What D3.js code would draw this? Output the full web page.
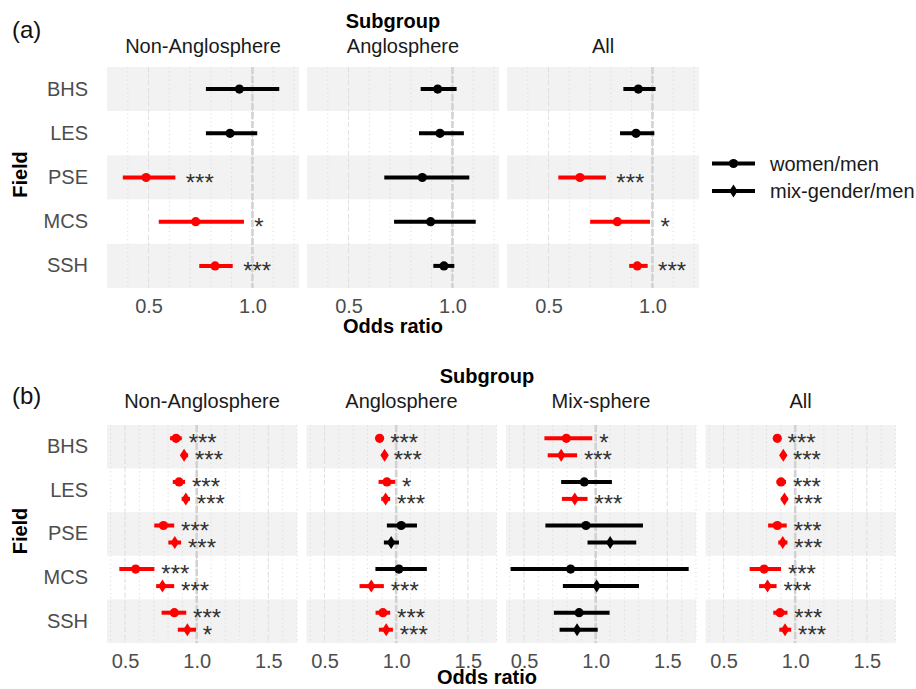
<!DOCTYPE html>
<html>
<head>
<meta charset="utf-8">
<script src="https://cdn.jsdelivr.net/npm/d3@7"></script>
<style>
  body { margin: 0; background: #fff; }
  svg { display: block; font-family: "Liberation Sans", Arial, Helvetica, sans-serif; }
</style>
</head>
<body>
<svg id="chart" width="916" height="689"></svg>
<script>
// ---- data -------------------------------------------------------------
const fields = ["BHS", "LES", "PSE", "MCS", "SSH"];
const seriesNames = ["women/men", "mix-gender/men"];

// Panel (a): women/men only
const aSubgroups = ["Non-Anglosphere", "Anglosphere", "All"];
const aWomenOR = [
  [0.937, 0.892, 0.488, 0.727, 0.820],
  [0.929, 0.940, 0.855, 0.895, 0.959],
  [0.932, 0.921, 0.651, 0.831, 0.927]
];
const aWomenLo = [
  [0.776, 0.776, 0.376, 0.549, 0.744],
  [0.847, 0.839, 0.672, 0.719, 0.908],
  [0.860, 0.844, 0.547, 0.700, 0.888]
];
const aWomenHi = [
  [1.129, 1.023, 0.629, 0.959, 0.905],
  [1.020, 1.055, 1.081, 1.112, 1.009],
  [1.015, 1.009, 0.776, 0.988, 0.977]
];
const aWomenSig = [
  ["", "", "***", "*", "***"],
  ["", "", "", "", ""],
  ["", "", "***", "*", "***"]
];
const aTicks = [0.5, 1.0];

// Panel (b): women/men and mix-gender/men
const bSubgroups = ["Non-Anglosphere", "Anglosphere", "Mix-sphere", "All"];
const bWomenOR = [
  [0.856, 0.877, 0.768, 0.574, 0.844],
  [0.884, 0.935, 1.035, 1.019, 0.907],
  [0.795, 0.920, 0.932, 0.825, 0.884],
  [0.875, 0.901, 0.875, 0.783, 0.894]
];
const bWomenLo = [
  [0.814, 0.833, 0.704, 0.460, 0.755],
  [0.860, 0.877, 0.935, 0.855, 0.856],
  [0.642, 0.759, 0.649, 0.406, 0.708],
  [0.851, 0.870, 0.811, 0.682, 0.847]
];
const bWomenHi = [
  [0.896, 0.919, 0.843, 0.705, 0.927],
  [0.910, 0.993, 1.145, 1.214, 0.958],
  [0.976, 1.113, 1.330, 1.649, 1.097],
  [0.899, 0.936, 0.941, 0.901, 0.946]
];
const bWomenSig = [
  ["***", "***", "***", "***", "***"],
  ["***", "*", "", "", "***"],
  ["*", "", "", "", ""],
  ["***", "***", "***", "***", "***"]
];
const bMixOR = [
  [0.912, 0.924, 0.847, 0.761, 0.935],
  [0.919, 0.926, 0.965, 0.826, 0.930],
  [0.759, 0.854, 1.101, 1.007, 0.870],
  [0.917, 0.925, 0.913, 0.807, 0.929]
];
const bMixLo = [
  [0.890, 0.895, 0.802, 0.717, 0.868],
  [0.900, 0.896, 0.914, 0.744, 0.879],
  [0.665, 0.764, 0.943, 0.771, 0.748],
  [0.899, 0.903, 0.882, 0.748, 0.889]
];
const bMixHi = [
  [0.940, 0.953, 0.891, 0.843, 0.995],
  [0.935, 0.958, 1.019, 0.914, 0.977],
  [0.870, 0.943, 1.283, 1.302, 1.014],
  [0.936, 0.946, 0.946, 0.870, 0.972]
];
const bMixSig = [
  ["***", "***", "***", "***", "*"],
  ["***", "***", "", "***", "***"],
  ["***", "***", "", "", ""],
  ["***", "***", "***", "***", "***"]
];
const bTicks = [0.5, 1.0, 1.5];

// ---- drawing ----------------------------------------------------------
const svg = d3.select("#chart");
const FS = 20;
const sigColor = s => (s ? "#ff0000" : "#000000");
const diamondPath = "M0,-6.5L4.2,0L0,6.5L-4.2,0Z";

function drawShape(g, shape, x, y, color) {
  if (shape === "circle") {
    g.append("circle").attr("cx", x).attr("cy", y).attr("r", 4.6).attr("fill", color);
  } else {
    g.append("path").attr("d", diamondPath)
      .attr("transform", `translate(${x},${y})`).attr("fill", color);
  }
}

function drawPanel(cfg) {
  const g = svg.append("g");
  const y = d3.scaleBand().domain(fields).range([cfg.top, cfg.bottom]).paddingInner(0).paddingOuter(0);

  cfg.subgroups.forEach((sub, fi) => {
    const left = cfg.left + fi * cfg.step;
    const x = d3.scaleLinear().domain(cfg.domain).range([left, left + cfg.width]);
    const fg = g.append("g");

    // striped row backgrounds
    fields.forEach((f, i) => {
      fg.append("rect")
        .attr("x", left).attr("y", y(f))
        .attr("width", cfg.width).attr("height", y.bandwidth())
        .attr("fill", i % 2 === 0 ? "#f2f2f2" : "#ffffff");
    });

    // fine dotted grid every 0.1
    fg.selectAll("line.minor").data(cfg.minor).join("line")
      .attr("x1", d => x(d)).attr("x2", d => x(d))
      .attr("y1", cfg.top).attr("y2", cfg.bottom)
      .attr("stroke", "#d8d8d8").attr("stroke-width", 0.9)
      .attr("stroke-dasharray", "1.2,3");
    // labelled grid lines
    fg.selectAll("line.major").data(cfg.ticks).join("line")
      .attr("x1", d => x(d)).attr("x2", d => x(d))
      .attr("y1", cfg.top).attr("y2", cfg.bottom)
      .attr("stroke", "#e0e0e0").attr("stroke-width", 1)
      .attr("stroke-dasharray", "4,3");
    // reference line at OR = 1
    fg.append("line")
      .attr("x1", x(1)).attr("x2", x(1))
      .attr("y1", cfg.top).attr("y2", cfg.bottom)
      .attr("stroke", "#d2d2d2").attr("stroke-width", 2.6)
      .attr("stroke-dasharray", "7,2");

    // estimates with confidence intervals
    cfg.series.forEach(s => {
      fields.forEach((f, i) => {
        const yc = y(f) + y.bandwidth() / 2 + s.offset;
        const sig = s.sig[fi][i];
        const col = sigColor(sig);
        fg.append("line")
          .attr("x1", x(s.lo[fi][i])).attr("x2", x(s.hi[fi][i]))
          .attr("y1", yc).attr("y2", yc)
          .attr("stroke", col).attr("stroke-width", 4);
        drawShape(fg, s.shape, x(s.or[fi][i]), yc, col);
        if (sig) {
          fg.append("text")
            .attr("x", x(s.hi[fi][i] + 0.055) - 1)
            .attr("y", yc + 13)
            .attr("font-size", 24)
            .attr("fill", "#333333")
            .text(sig);
        }
      });
    });

    // x axis
    const ax = fg.append("g")
      .attr("transform", `translate(0,${cfg.bottom})`)
      .call(d3.axisBottom(x).tickValues(cfg.ticks).tickSize(0).tickPadding(11)
        .tickFormat(d3.format(".1f")));
    ax.select(".domain").remove();
    ax.selectAll("text").attr("font-size", FS).attr("fill", "#4d4d4d")
      .attr("font-family", "Liberation Sans, Arial, sans-serif");

    // facet strip label
    g.append("text")
      .attr("x", left + cfg.width / 2).attr("y", cfg.stripY)
      .attr("text-anchor", "middle").attr("font-size", FS).attr("fill", "#1a1a1a")
      .text(sub);
  });

  // y axis
  const ay = g.append("g")
    .attr("transform", `translate(${cfg.left},0)`)
    .call(d3.axisLeft(y).tickSize(0).tickPadding(19));
  ay.select(".domain").remove();
  ay.selectAll("text").attr("font-size", FS).attr("fill", "#4d4d4d")
    .attr("font-family", "Liberation Sans, Arial, sans-serif");

  // titles
  g.append("text").attr("x", cfg.titleX).attr("y", cfg.subgroupY)
    .attr("text-anchor", "middle").attr("font-size", FS).attr("font-weight", "bold")
    .text("Subgroup");
  g.append("text").attr("x", cfg.titleX).attr("y", cfg.xTitleY)
    .attr("text-anchor", "middle").attr("font-size", FS).attr("font-weight", "bold")
    .text("Odds ratio");
  g.append("text")
    .attr("transform", `translate(27,${(cfg.top + cfg.bottom) / 2 - 3}) rotate(-90)`)
    .attr("text-anchor", "middle").attr("font-size", FS).attr("font-weight", "bold")
    .text("Field");
  g.append("text").attr("x", 12).attr("y", cfg.tagY)
    .attr("font-size", 24).attr("fill", "#111").text(cfg.tag);
}

drawPanel({
  tag: "(a)", tagY: 38,
  subgroups: aSubgroups,
  left: 107, step: 200, width: 192,
  top: 67, bottom: 288,
  domain: [0.30, 1.224],
  ticks: aTicks,
  minor: d3.range(4, 13).map(d => d / 10),
  stripY: 53, subgroupY: 28, xTitleY: 333, titleX: 393,
  series: [
    { shape: "circle", offset: 0, or: aWomenOR, lo: aWomenLo, hi: aWomenHi, sig: aWomenSig }
  ]
});

drawPanel({
  tag: "(b)", tagY: 404,
  subgroups: bSubgroups,
  left: 107, step: 199.5, width: 190,
  top: 425, bottom: 643,
  domain: [0.374, 1.70],
  ticks: bTicks,
  minor: d3.range(4, 18).map(d => d / 10),
  stripY: 408, subgroupY: 383, xTitleY: 684, titleX: 487,
  series: [
    { shape: "circle", offset: -8.5, or: bWomenOR, lo: bWomenLo, hi: bWomenHi, sig: bWomenSig },
    { shape: "diamond", offset: 8.5, or: bMixOR, lo: bMixLo, hi: bMixHi, sig: bMixSig }
  ]
});

// legend
const legend = svg.append("g");
const legendShapes = ["circle", "diamond"];
seriesNames.forEach((name, i) => {
  const ly = 163.5 + i * 27.5;
  legend.append("line").attr("x1", 712).attr("x2", 755).attr("y1", ly).attr("y2", ly)
    .attr("stroke", "#000").attr("stroke-width", 4);
  drawShape(legend, legendShapes[i], 733.5, ly, "#000");
  legend.append("text").attr("x", 770).attr("y", ly + 7)
    .attr("font-size", FS).attr("fill", "#1a1a1a").text(name);
});
</script>
</body>
</html>
